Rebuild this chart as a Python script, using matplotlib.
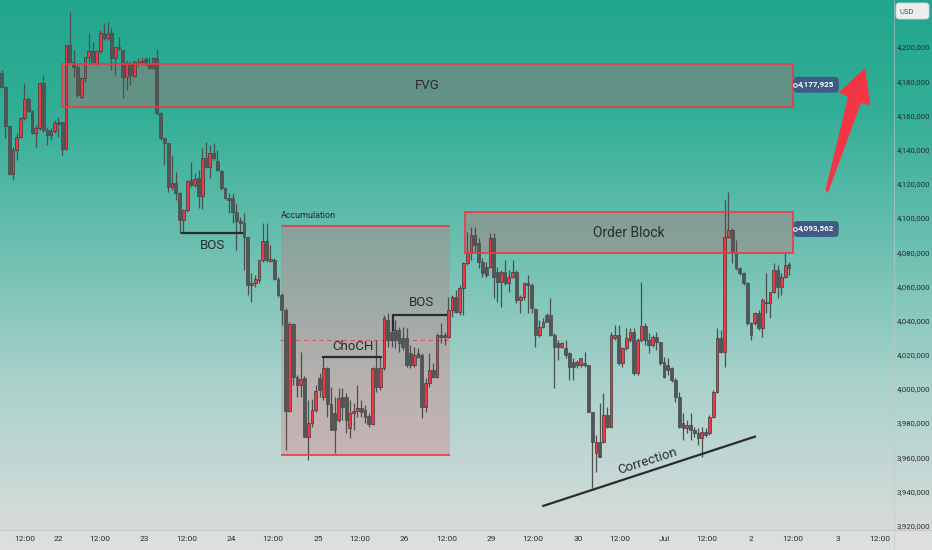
import numpy as np
import matplotlib

matplotlib.use("Agg")
import matplotlib.pyplot as plt
from matplotlib.patches import Rectangle, Polygon, FancyBboxPatch
from matplotlib.ticker import FuncFormatter

# hourly candles, prices in thousands of USD
OPEN_K = [
    4184.8, 4176.6, 4153.8, 4125.7, 4139.8, 4147.4, 4158.5, 4169.6, 4162.6, 4149.7,
    4152.6, 4179.0, 4151.5, 4148.6, 4150.9, 4156.2, 4156.2, 4140.4, 4201.2, 4191.2,
    4188.3, 4170.8, 4181.9, 4194.2, 4197.7, 4190.7, 4197.7, 4208.2, 4205.3, 4208.2,
    4193.6, 4200.0, 4198.3, 4182.5, 4190.7, 4183.1, 4191.2, 4190.7, 4193.0, 4190.1,
    4187.7, 4193.6, 4161.4, 4146.8, 4143.9, 4118.1, 4120.5, 4114.6, 4098.8, 4104.7,
    4122.2, 4119.3, 4123.4, 4112.9, 4135.1, 4129.9, 4138.0, 4133.4, 4127.5, 4117.6,
    4111.7, 4111.7, 4103.5, 4098.3, 4097.1, 4088.9, 4060.8, 4062.0, 4063.8, 4075.5,
    4086.6, 4074.9, 4075.5, 4064.3, 4055.0, 4046.2, 3987.1, 4038.0, 4007.0, 4002.4,
    4006.5, 3971.9, 3980.2, 3987.7, 4006.5, 3995.3, 4012.3, 3991.2, 3986.0, 3981.9,
    3995.3, 3995.3, 3977.2, 3986.0, 3987.1, 3988.9, 3987.7, 3984.3, 3979.6, 4012.3,
    4001.2, 4012.3, 4040.4, 4033.4, 4034.5, 4034.5, 4029.9, 4029.9, 4021.1, 4014.0,
    4021.1, 4019.9, 3989.5, 4003.5, 4011.1, 4007.0, 4031.6, 4031.6, 4030.5, 4046.2,
    4053.8, 4045.0, 4059.1, 4073.7, 4080.1, 4090.1, 4085.4, 4074.3, 4071.4, 4071.4,
    4088.3, 4068.4, 4062.6, 4068.4, 4062.0, 4065.5, 4068.4, 4052.1, 4053.8, 4062.0,
    4060.8, 4046.8, 4031.6, 4036.3, 4043.3, 4043.3, 4031.6, 4026.9, 4024.6, 4024.0,
    4021.1, 4015.8, 4014.0, 4014.0, 4015.2, 4014.0, 3986.6, 3962.6, 3969.0, 3969.0,
    3984.8, 3977.8, 4029.9, 4031.6, 4015.2, 4024.0, 4028.7, 4033.4, 4009.4, 4028.7,
    4036.9, 4028.7, 4025.8, 4030.5, 4027.5, 4015.8, 4014.0, 4012.3, 4005.3, 3995.3,
    3980.2, 3977.2, 3979.0, 3976.0, 3974.3, 3971.4, 3974.9, 3974.3, 3983.7, 3998.3,
    4029.9, 4021.7, 4088.9, 4093.0, 4080.1, 4070.8, 4067.9, 4062.0, 4038.6, 4038.6,
    4044.5, 4035.7, 4050.3, 4050.3, 4056.7, 4069.6, 4059.7, 4065.5, 4073.1,
]
HIGH_K = [
    4186.6, 4177.0, 4154.2, 4141.5, 4149.7, 4159.1, 4179.0, 4170.8, 4163.2, 4154.4,
    4179.6, 4183.6, 4153.2, 4152.6, 4157.3, 4159.1, 4156.2, 4201.2, 4220.5, 4198.3,
    4189.5, 4182.5, 4194.2, 4208.2, 4203.0, 4198.3, 4210.0, 4214.0, 4214.6, 4211.1,
    4200.0, 4205.9, 4198.3, 4192.4, 4191.8, 4192.4, 4193.6, 4194.2, 4194.2, 4194.2,
    4194.2, 4198.8, 4162.0, 4147.4, 4143.9, 4136.9, 4126.9, 4115.2, 4105.3, 4122.2,
    4132.8, 4126.3, 4128.1, 4141.0, 4144.5, 4142.7, 4143.9, 4139.8, 4128.1, 4118.1,
    4114.6, 4114.6, 4108.8, 4100.6, 4102.9, 4088.9, 4067.9, 4066.7, 4075.5, 4097.1,
    4097.1, 4084.2, 4076.6, 4065.5, 4056.1, 4047.4, 4039.2, 4038.6, 4008.2, 4021.7,
    4007.6, 3993.6, 3994.2, 4002.4, 4009.4, 4018.7, 4012.9, 4001.2, 3995.3, 4000.6,
    4000.6, 3997.7, 3993.6, 3991.8, 4002.4, 3993.6, 3990.6, 3986.0, 4012.9, 4028.7,
    4018.7, 4043.3, 4044.5, 4040.4, 4040.4, 4036.3, 4036.3, 4035.7, 4025.8, 4024.6,
    4024.0, 4021.1, 4006.5, 4021.1, 4015.2, 4032.8, 4038.6, 4033.4, 4053.8, 4055.0,
    4057.9, 4060.8, 4074.3, 4091.8, 4094.7, 4094.7, 4088.3, 4076.6, 4074.3, 4091.2,
    4091.2, 4071.4, 4069.6, 4075.5, 4069.6, 4075.5, 4069.6, 4055.0, 4062.6, 4066.7,
    4062.0, 4047.4, 4040.4, 4041.5, 4044.5, 4053.2, 4032.8, 4028.7, 4027.5, 4028.7,
    4021.7, 4018.1, 4017.0, 4018.1, 4021.7, 4014.0, 3986.6, 3973.1, 3991.8, 3997.7,
    3989.5, 4033.4, 4037.4, 4037.4, 4024.6, 4035.7, 4035.7, 4035.7, 4029.9, 4062.6,
    4038.6, 4032.8, 4031.6, 4033.4, 4027.5, 4018.7, 4018.1, 4012.9, 4006.5, 3998.3,
    3986.0, 3981.9, 3986.0, 3977.8, 3977.2, 3977.8, 3977.2, 3984.8, 3999.4, 4035.7,
    4034.5, 4110.5, 4115.2, 4094.2, 4087.2, 4071.4, 4068.4, 4062.6, 4039.2, 4045.0,
    4046.2, 4053.2, 4067.9, 4056.7, 4073.7, 4072.5, 4067.9, 4079.5, 4074.3,
]
LOW_K = [
    4176.0, 4146.8, 4125.2, 4122.2, 4133.9, 4146.8, 4157.3, 4162.0, 4149.1, 4141.5,
    4151.5, 4150.3, 4142.7, 4145.6, 4149.7, 4147.4, 4136.9, 4139.8, 4190.7, 4182.5,
    4170.8, 4170.2, 4179.6, 4190.7, 4189.5, 4189.5, 4196.5, 4204.1, 4204.1, 4186.6,
    4183.6, 4198.3, 4170.2, 4174.9, 4177.8, 4182.5, 4188.9, 4189.5, 4188.9, 4187.7,
    4187.1, 4160.2, 4145.6, 4131.0, 4115.2, 4116.4, 4110.5, 4091.2, 4091.2, 4103.5,
    4118.1, 4118.1, 4105.9, 4105.3, 4129.3, 4123.4, 4133.9, 4127.5, 4116.4, 4111.1,
    4102.9, 4097.1, 4081.3, 4091.2, 4069.6, 4055.0, 4050.9, 4059.7, 4062.0, 4074.3,
    4074.3, 4074.3, 4063.8, 4053.8, 4037.4, 3964.3, 3986.6, 4002.4, 3995.3, 3995.3,
    3971.9, 3958.5, 3977.8, 3986.6, 3995.3, 3993.6, 3983.7, 3976.0, 3962.6, 3980.8,
    3981.9, 3974.3, 3971.4, 3976.0, 3983.7, 3983.7, 3980.2, 3977.8, 3979.0, 3998.3,
    3999.4, 4011.1, 4024.6, 4024.6, 4024.0, 4021.7, 4022.9, 4012.9, 4012.3, 4012.9,
    4018.1, 3983.1, 3986.6, 4001.2, 4006.5, 4006.5, 4026.9, 4025.8, 4029.9, 4042.1,
    4044.5, 4043.3, 4043.3, 4072.5, 4075.5, 4079.5, 4070.8, 4065.5, 4065.5, 4070.8,
    4053.2, 4050.9, 4048.0, 4060.8, 4056.7, 4064.9, 4050.3, 4044.5, 4052.1, 4044.5,
    4044.5, 4024.6, 4030.5, 4035.7, 4039.2, 4031.0, 4000.6, 4017.0, 4024.0, 4018.1,
    4005.3, 4005.3, 4012.3, 4012.9, 4012.9, 3986.6, 3942.1, 3951.5, 3960.2, 3968.4,
    3977.2, 3977.2, 4028.7, 4014.0, 4012.9, 4022.9, 4027.5, 4008.2, 4008.2, 4027.5,
    4025.8, 4021.1, 4024.6, 4022.9, 4014.0, 4006.5, 4008.2, 4004.1, 3992.4, 3977.2,
    3970.2, 3974.3, 3970.2, 3971.9, 3967.3, 3960.2, 3971.9, 3973.1, 3983.1, 3997.7,
    4021.1, 4012.9, 4088.3, 4073.7, 4069.6, 4066.7, 4060.8, 4037.4, 4028.7, 4037.4,
    4034.5, 4030.5, 4044.5, 4041.5, 4056.1, 4053.2, 4055.0, 4064.9, 4066.7,
]
CLOSE_K = [
    4176.6, 4153.8, 4125.7, 4139.8, 4147.4, 4158.5, 4169.6, 4162.6, 4149.7, 4152.6,
    4179.0, 4151.5, 4148.6, 4150.9, 4155.6, 4155.0, 4140.4, 4201.2, 4191.2, 4188.3,
    4171.9, 4181.9, 4194.2, 4197.7, 4190.7, 4197.7, 4208.2, 4205.3, 4207.6, 4193.6,
    4200.0, 4198.8, 4182.5, 4190.7, 4183.6, 4191.2, 4190.7, 4191.8, 4190.1, 4187.7,
    4193.6, 4161.4, 4146.8, 4143.9, 4118.1, 4120.5, 4114.6, 4098.8, 4104.7, 4121.7,
    4119.3, 4122.8, 4112.9, 4135.1, 4129.9, 4138.0, 4135.1, 4128.1, 4117.6, 4111.7,
    4110.5, 4103.5, 4098.3, 4097.1, 4088.9, 4060.8, 4062.0, 4064.3, 4075.5, 4086.6,
    4075.5, 4076.0, 4064.3, 4055.0, 4046.2, 3987.1, 4038.0, 4007.0, 4002.4, 4005.9,
    3971.9, 3980.2, 3987.7, 3998.9, 3999.4, 4012.3, 3991.2, 3976.0, 3976.0, 3994.8,
    3989.5, 3981.9, 3986.0, 3987.1, 3988.9, 3986.6, 3983.7, 3979.6, 4012.3, 4001.2,
    4012.3, 4041.5, 4028.7, 4028.7, 4028.7, 4026.9, 4024.6, 4014.0, 4014.0, 4019.9,
    4018.7, 3989.5, 4003.5, 4011.1, 4007.0, 4031.6, 4030.5, 4030.5, 4046.2, 4053.8,
    4045.0, 4059.1, 4073.7, 4080.1, 4090.1, 4084.2, 4074.3, 4067.9, 4066.7, 4088.3,
    4065.5, 4062.6, 4068.4, 4062.0, 4065.5, 4068.4, 4052.1, 4053.8, 4062.0, 4060.8,
    4047.4, 4031.6, 4036.3, 4039.2, 4039.2, 4031.6, 4024.6, 4024.6, 4026.9, 4019.9,
    4012.9, 4012.9, 4015.8, 4018.1, 4014.0, 3986.6, 3969.0, 3969.0, 3960.2, 3984.8,
    3977.8, 4031.6, 4031.6, 4015.2, 4024.0, 4029.9, 4033.4, 4009.4, 4028.7, 4036.9,
    4028.7, 4025.8, 4030.5, 4027.5, 4015.2, 4007.0, 4011.1, 4005.3, 3995.3, 3977.8,
    3977.2, 3979.0, 3976.0, 3974.3, 3971.4, 3974.9, 3973.1, 3983.7, 3998.3, 4029.9,
    4021.7, 4088.9, 4093.0, 4080.1, 4070.8, 4067.9, 4062.0, 4038.6, 4031.6, 4044.5,
    4035.7, 4052.1, 4050.9, 4056.7, 4069.6, 4059.7, 4065.5, 4072.5, 4070.8,
]

PRICE_TICKS_K = list(range(3920, 4201, 20))
DAY_LABELS = ["22", "23", "24", "25", "26", "29", "30", "Jul", "2", "3"]

# zones drawn on the chart (thousands)
FVG_ZONE = (4164.8, 4190.1)
OB_ZONE = (4079.4, 4103.3)
ACC_ZONE = (3961.4, 4095.5)
ACC_MID = 4028.7
FVG_TAG = 4177925
OB_TAG = 4093562

RED = "#f23645"
INK = "#2a2c2e"
TAG = "#3d5b85"
FONT = ["Liberation Sans Narrow", "Roboto", "DejaVu Sans"]

W, H = 932, 550
fig = plt.figure(figsize=(W / 100, H / 100), dpi=100)

# background gradient, pixel coordinates
bg = fig.add_axes([0, 0, 1, 1], zorder=0)
stop_pos = [0.0, 0.2, 0.45, 0.7, 0.95, 1.0]
stop_col = [(33, 166, 141), (50, 174, 150), (108, 192, 177),
            (170, 210, 203), (213, 219, 218), (218, 221, 220)]
ys = np.linspace(0, 1, H)
grad = np.stack([np.interp(ys, stop_pos, [c[i] for c in stop_col]) for i in range(3)], axis=-1) / 255
bg.imshow(grad[:, None, :], aspect="auto", extent=[0, W, H, 0])
bg.set_xlim(0, W)
bg.set_ylim(H, 0)
bg.axis("off")
bg.add_patch(Rectangle((0, 530), W, 20, color="#dcdfde", lw=0))
bg.plot([0, W], [530, 530], color="#c4c9c8", lw=0.8)
bg.plot([893.5, 893.5], [0, 550], color="#bfc8c5", lw=0.6, alpha=0.7)
bg.add_patch(FancyBboxPatch((896, 3), 33, 16, boxstyle="round,pad=0,rounding_size=3",
                            fc="#eceeed", ec="#d0d4d3", lw=0.6))
bg.text(900, 11.5, "USD", fontsize=5.5, color="#555", va="center", family=FONT)

ax = fig.add_axes([0, 20 / H, 893 / W, 530 / H], zorder=1)
ax.patch.set_alpha(0)
for s in ax.spines.values():
    s.set_visible(False)

o = np.array(OPEN_K)
h = np.array(HIGH_K)
l = np.array(LOW_K)
c = np.array(CLOSE_K)
h = np.maximum(h, np.maximum(o, c))
l = np.minimum(l, np.minimum(o, c))
x = np.arange(len(o))
up = c >= o

# zones (fill under candles, borders on top)
fill = dict(fc=(0.80, 0.38, 0.41), alpha=0.33, lw=0, zorder=1)
ax.add_patch(Rectangle((15.85, FVG_ZONE[0]), 209.1 - 15.85, FVG_ZONE[1] - FVG_ZONE[0], **fill))
ax.add_patch(Rectangle((15.85, FVG_ZONE[0]), 209.1 - 15.85, FVG_ZONE[1] - FVG_ZONE[0],
                       fill=False, ec=RED, lw=1.2, zorder=5))
ax.add_patch(Rectangle((122.4, OB_ZONE[0]), 209.1 - 122.4, OB_ZONE[1] - OB_ZONE[0], **fill))
ax.add_patch(Rectangle((122.4, OB_ZONE[0]), 209.1 - 122.4, OB_ZONE[1] - OB_ZONE[0],
                       fill=False, ec=RED, lw=1.2, zorder=5))
ax.add_patch(Rectangle((73.8, ACC_ZONE[0]), 118.5 - 73.8, ACC_ZONE[1] - ACC_ZONE[0],
                       fc=(0.85, 0.40, 0.45), alpha=0.30, lw=0, zorder=1))
ax.hlines([ACC_ZONE[0], ACC_ZONE[1]], 73.8, 118.5, color=RED, lw=1.2, zorder=5)
ax.hlines(ACC_MID, 73.6, 118.5, color=RED, lw=0.8, ls=(0, (4, 3)), alpha=0.75, zorder=2)

# candles
ax.vlines(x, l, h, color="#4d4f4f", lw=0.9, zorder=3)
body_lo = np.minimum(o, c)
body_h = np.maximum(np.abs(c - o), 0.8)
ax.bar(x[up], body_h[up], bottom=body_lo[up], width=0.74, color=RED,
       edgecolor="#3b3b3b", linewidth=0.5, zorder=4)
ax.bar(x[~up], body_h[~up], bottom=body_lo[~up], width=0.74, color="#545656",
       edgecolor="#474949", linewidth=0.5, zorder=4)

# market structure marks
ax.plot([47.7, 63.4], [4091.2, 4091.2], color=INK, lw=1.6, zorder=6)
ax.plot([84.8, 100.2], [4018.7, 4018.7], color=INK, lw=1.6, zorder=6)
ax.plot([103.5, 103.5, 117.4], [4034.5, 4043.3, 4043.3], color=INK, lw=1.6, zorder=6)
ax.plot([143.1, 199.0], [3931.6, 3972.1], color=INK, lw=1.6, zorder=6)

txt = dict(color=INK, ha="center", va="center", family=FONT, zorder=7)
ax.text(55.7, 4084.0, "BOS", fontsize=9.5, **txt)
ax.text(92.7, 4024.8, "ChoCH", fontsize=9.5, **txt)
ax.text(111.0, 4050.4, "BOS", fontsize=9.5, **txt)
ax.text(112.5, 4177.3, "FVG", fontsize=9.5, **txt)
ax.text(165.7, 4091.3, "Order Block", fontsize=10, **txt)
ax.text(170.7, 3958.0, "Correction", fontsize=9.5, rotation=18, rotation_mode="anchor", **txt)
ax.text(73.8, 4098.6, "Accumulation", fontsize=6.5, color=INK, ha="left", va="bottom",
        family=FONT, zorder=7)

# price tags at the right edge of the zones
for val in (FVG_TAG, OB_TAG):
    ax.text(215.2, val / 1000, f"{val:,}", fontsize=5.8, fontweight="bold", color="white",
            ha="center", va="center", family=FONT, zorder=8, clip_on=False,
            bbox=dict(boxstyle="round,pad=0.55,rounding_size=0.5", fc=TAG, ec="none"))
    ax.plot(209.6, val / 1000, "o", ms=2.6, mfc=TAG, mec="white", mew=0.7, zorder=9)

# red arrow
arrow = [(217.67, 4116.4), (223.62, 4170.8), (221.1, 4173.4), (228.1, 4187.7),
         (229.56, 4165.8), (227.05, 4167.3), (218.33, 4114.9)]
ax.add_patch(Polygon(arrow, closed=True, fc=RED, ec="none", zorder=6))

ax.set_xlim(-0.45, 235.5)
ax.set_ylim(3917.5, 4227.5)

ax.yaxis.tick_right()
ax.set_yticks(PRICE_TICKS_K)
ax.yaxis.set_major_formatter(FuncFormatter(lambda v, _: f"{int(round(v * 1000)):,}"))
ax.tick_params(axis="y", length=0, pad=2.5, labelsize=5.6, labelcolor="#2a2d2c")

ticks, labels = [6.2], ["12:00"]
for k, day in enumerate(DAY_LABELS):
    ticks += [14.9 + 22.9 * k, 25.9 + 22.9 * k]
    labels += [day, "12:00"]
ax.set_xticks(ticks)
ax.set_xticklabels(labels)
ax.tick_params(axis="x", length=0, pad=4, labelsize=6.0, labelcolor="#2a2d2c")
for t in ax.get_xticklabels() + ax.get_yticklabels():
    t.set_family(FONT)

fig.savefig("out.png", dpi=100)
